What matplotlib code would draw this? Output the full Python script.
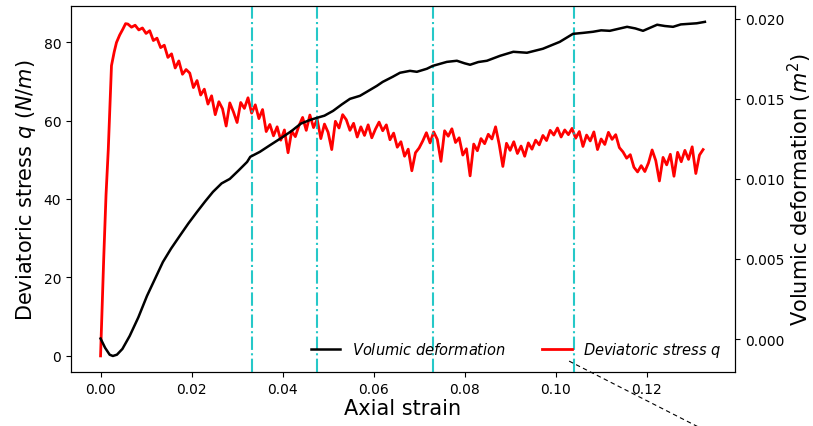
import matplotlib
matplotlib.use("Agg")
import matplotlib.pyplot as plt
from matplotlib.lines import Line2D
import numpy as np

# volumic deformation (right axis, m^2)
vol_strain = [0.0, 0.0010, 0.0020, 0.0027, 0.0036, 0.0048, 0.0064, 0.0083, 0.0102, 0.0120, 0.0137,
              0.0155, 0.0174, 0.0193, 0.0212, 0.0230, 0.0247, 0.0266, 0.0284, 0.0303, 0.0322,
              0.0329, 0.0350, 0.0372, 0.0401, 0.0420, 0.0440, 0.0460, 0.0475, 0.0492, 0.0511,
              0.0530, 0.0548, 0.0570, 0.0585, 0.0607, 0.0620, 0.0642, 0.0658, 0.0680, 0.0695,
              0.0717, 0.0730, 0.0761, 0.0783, 0.0800, 0.0812, 0.0830, 0.0849, 0.0878, 0.0907,
              0.0937, 0.0972, 0.1009, 0.1038, 0.1060, 0.1082, 0.1100, 0.1119, 0.1157, 0.1175,
              0.1192, 0.1223, 0.1240, 0.1258, 0.1275, 0.1295, 0.1310, 0.1328]
vol_def = [0.00003, -0.00055, -0.00098, -0.00106, -0.00098, -0.00062, 0.00019, 0.00135, 0.00269, 0.00378, 0.00481,
           0.00565, 0.00644, 0.00722, 0.00794, 0.00860, 0.00919, 0.00972, 0.01000, 0.01052, 0.01106,
           0.01138, 0.01169, 0.01210, 0.01263, 0.01300, 0.01345, 0.01368, 0.01381, 0.01395, 0.01425,
           0.01465, 0.01500, 0.01519, 0.01544, 0.01581, 0.01606, 0.01638, 0.01663, 0.01675, 0.01669,
           0.01688, 0.01706, 0.01731, 0.01738, 0.01722, 0.01713, 0.01730, 0.01738, 0.01769, 0.01794,
           0.01788, 0.01813, 0.01856, 0.01906, 0.01912, 0.01919, 0.01928, 0.01925, 0.01950, 0.01940,
           0.01925, 0.01963, 0.01955, 0.01950, 0.01965, 0.01969, 0.01972, 0.01981]

# deviatoric stress (left axis, N/m): steep rise then noisy plateau
q_rise_strain = [0.0, 0.0004, 0.0007, 0.0012, 0.0017, 0.0024, 0.0030, 0.0035, 0.0042, 0.0049, 0.0055]
q_rise = [0.0, 14.0, 25.0, 41.0, 52.7, 74.0, 77.5, 79.9, 81.8, 83.3, 84.7]

q_noisy = [84.6, 83.8, 84.3, 83.1, 83.6, 82.2, 82.9, 80.4, 81.0, 78.6,
           79.2, 76.1, 77.0, 73.4, 75.2, 71.8, 73.0, 72.1, 68.4, 70.2,
           66.5, 68.0, 64.2, 66.3, 61.5, 64.8, 63.0, 58.6, 64.5, 62.2,
           59.5, 64.6, 63.1, 65.8, 61.9, 64.0, 60.5, 62.8, 57.2, 59.0,
           56.1, 58.4, 55.0, 57.6, 51.8, 57.3, 55.9, 58.7, 60.8, 57.5,
           61.4, 58.2, 60.3, 55.4, 59.1, 57.0, 52.6, 59.8, 58.1, 61.5,
           60.2, 57.5, 59.3, 55.8, 58.4, 56.2, 58.9, 55.6, 57.8, 59.6,
           57.4, 58.9, 55.1, 56.8, 53.2, 54.6, 50.9, 52.7, 47.2, 51.8,
           53.0, 54.8, 56.9, 54.3, 57.1, 55.2, 49.6, 57.4, 56.0, 57.9,
           54.4, 55.6, 51.2, 52.8, 45.9, 54.0, 52.3, 55.4, 54.1, 56.5,
           55.3, 58.4, 53.9, 48.3, 54.2, 52.4, 54.6, 51.6, 53.5, 50.9,
           54.3, 52.7, 55.0, 53.8, 56.2, 54.9, 57.5, 56.3, 58.1, 55.8,
           57.6, 56.4, 58.0, 55.5, 57.2, 53.4, 56.3, 54.8, 57.1, 52.6,
           55.3, 53.9, 57.0, 55.2, 56.4, 53.1, 52.0, 50.4, 51.3, 48.1,
           46.9, 48.5, 47.0, 49.2, 52.5, 49.8, 44.6, 50.6, 48.7, 51.4,
           45.8, 51.9, 49.5, 52.4, 50.1, 53.3, 46.5, 51.2, 52.6]
q_noisy_strain = np.linspace(0.0060, 0.1324, len(q_noisy))

stage_lines = [0.0333, 0.0475, 0.0731, 0.1040]

q_strain = np.concatenate([q_rise_strain, q_noisy_strain])
q_vals = np.concatenate([q_rise, q_noisy])

fig = plt.figure(figsize=(8.13, 4.27), dpi=100)
ax = fig.add_axes([0.0873, 0.1265, 0.8167, 0.8571])
ax2 = ax.twinx()

red, = ax.plot(q_strain, q_vals, color="red", lw=2.0)
for s in stage_lines:
    ax2.axvline(s, color="c", ls="-.", lw=1.5, alpha=0.85)
black, = ax2.plot(vol_strain, vol_def, color="black", lw=1.8)

ax.set_xlim(-0.0065, 0.1394)
ax.set_ylim(-4.1, 89.2)
ax2.set_ylim(-0.00206, 0.0208)
ax.set_xticks([0.0, 0.02, 0.04, 0.06, 0.08, 0.10, 0.12])
ax2.set_yticks([0.0, 0.005, 0.010, 0.015, 0.020])

ax.tick_params(labelsize=10)
ax2.tick_params(labelsize=10)
ax.set_xlabel("Axial strain", fontsize=15, labelpad=2)
ax.set_ylabel(r"Deviatoric stress $q$ ($N/m$)", fontsize=15, labelpad=4)
ax2.set_ylabel(r"Volumic deformation ($m^2$)", fontsize=15, labelpad=1)

ax2.legend([black, red], [r"$Volumic\ deformation$", r"$Deviatoric\ stress\ q$"],
           loc="lower right", ncol=2, frameon=False, fontsize=10.5,
           bbox_to_anchor=(1.0, 0.0), columnspacing=2.5)

fig.add_artist(Line2D([0.700, 0.867], [0.152, -0.01], color="black", lw=0.8,
                      ls=(0, (4, 3)), transform=fig.transFigure))

fig.savefig("out.png", dpi=100)
